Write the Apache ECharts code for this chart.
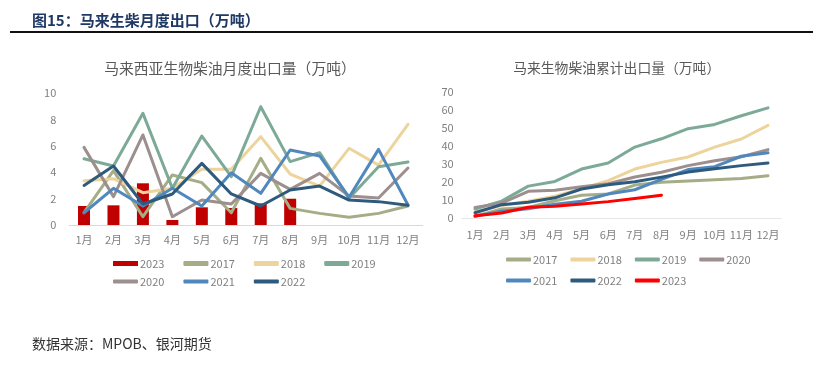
<!DOCTYPE html>
<html>
<head>
<meta charset="utf-8">
<script src="https://cdn.jsdelivr.net/npm/echarts@6/dist/echarts.min.js"></script>
<style>
html,body{margin:0;padding:0;background:#fff;}
#a{position:absolute;left:0;top:0;width:823px;height:365px;}
#b{position:absolute;left:430px;top:0;width:393px;height:365px;}
</style>
</head>
<body>
<div id="a"></div>
<div id="b"></div>
<script>
const months = ['1月','2月','3月','4月','5月','6月','7月','8月','9月','10月','11月','12月'];
// monthly exports (万吨)
const m2023 = [1.44, 1.49, 3.16, 0.38, 1.34, 1.29, 1.64, 1.99];
const m2017 = [0.93, 4.12, 0.63, 3.79, 3.21, 0.93, 5.05, 1.26, 0.88, 0.58, 0.88, 1.44];
const m2018 = [3.36, 3.51, 2.45, 2.78, 4.22, 4.22, 6.69, 3.86, 2.95, 5.81, 4.54, 7.63];
const m2019 = [5.02, 4.47, 8.46, 2.78, 6.74, 3.66, 8.96, 4.80, 5.48, 2.02, 4.42, 4.77];
const m2020 = [5.88, 2.15, 6.82, 0.63, 1.89, 1.59, 3.91, 2.70, 3.91, 2.20, 2.05, 4.32];
const m2021 = [0.93, 2.78, 1.44, 2.78, 1.44, 3.96, 2.40, 5.68, 5.23, 2.10, 5.73, 1.52];
const m2022 = [3.00, 4.47, 1.59, 2.35, 4.67, 2.35, 1.44, 2.65, 2.95, 1.89, 1.77, 1.49];
// cumulative exports (万吨)
const c2017 = [1.0, 5.0, 5.8, 9.6, 12.6, 13.4, 18.3, 19.8, 20.6, 21.2, 22.0, 23.5];
const c2018 = [3.4, 6.9, 9.3, 12.1, 16.3, 20.7, 27.2, 30.9, 33.9, 39.4, 43.9, 51.5];
const c2019 = [5.0, 9.4, 17.7, 20.3, 27.2, 30.6, 39.4, 44.0, 49.6, 52.0, 56.8, 61.2];
const c2020 = [5.9, 8.2, 14.8, 15.4, 17.4, 19.0, 22.8, 25.4, 29.1, 31.8, 34.0, 38.0];
const c2021 = [0.9, 3.7, 5.1, 7.7, 9.3, 13.3, 15.7, 21.5, 26.9, 28.5, 34.3, 36.2];
const c2022 = [2.9, 7.4, 8.8, 11.2, 16.1, 18.5, 20.1, 22.7, 25.5, 27.3, 29.1, 30.6];
const c2023 = [1.3, 2.8, 6.0, 6.5, 7.8, 9.1, 10.8, 12.7];
const yTicksL = [0, 2, 4, 6, 8, 10];
const yTicksR = [0, 10, 20, 30, 40, 50, 60, 70];

const COL = {
  '2017':'#A4AD85', '2018':'#EDD49C', '2019':'#7CAA97', '2020':'#9C8F8D',
  '2021':'#5088BD', '2022':'#2E5A7D', '2023bar':'#C00000', '2023line':'#FF0000'
};
const FONT = '"Noto Sans CJK SC","Noto Sans",sans-serif';
const axisLabelStyle = {color:'#808080', fontSize:11, fontFamily:FONT};

function lineSeries(name, data){
  return {name:name, type:'line', data:data, symbol:'none', smooth:false,
    lineStyle:{width:3, color:COL[name], cap:'round', join:'round'}, itemStyle:{color:COL[name]}, z:3};
}
function legendBox(names, left, top, gap, ih, icons){
  return {left:left, top:top, padding:0, orient:'horizontal', itemWidth:25, itemHeight:ih, itemGap:gap,
    textStyle:{color:'#7F7F7F', fontSize:11, fontFamily:FONT, padding:[0,0,0,-3]},
    data:names.map(n => ({name:n, icon:(icons && icons[n]) || 'roundRect'})),
    selectedMode:false};
}

const ca = echarts.init(document.getElementById('a'), null, {renderer:'canvas'});
ca.setOption({
  animation:false,
  graphic:[
    {type:'text', left:32, top:13, style:{text:'图15：马来生柴月度出口（万吨）', fill:'#1F3864', font:'bold 15px '+FONT}},
    {type:'line', shape:{x1:10, y1:32, x2:813, y2:32}, style:{stroke:'#111', lineWidth:2}},
    {type:'text', x:230, y:68, style:{text:'马来西亚生物柴油月度出口量（万吨）', fill:'#595959', font:'14.8px '+FONT, align:'center', verticalAlign:'middle'}},
    {type:'text', left:32, top:337, style:{text:'数据来源：MPOB、银河期货', fill:'#333', font:'14px '+FONT}}
  ],
  grid:{left:69.3, right:400.3, top:93, bottom:140},
  xAxis:{type:'category', data:months, boundaryGap:true,
    axisLine:{lineStyle:{color:'#D9D9D9', width:1}}, axisTick:{show:false},
    axisLabel:Object.assign({margin:9, interval:0}, axisLabelStyle)},
  yAxis:{type:'value', min:yTicksL[0], max:yTicksL[yTicksL.length-1], interval:2,
    axisLine:{show:false}, axisTick:{show:false}, splitLine:{show:false},
    axisLabel:Object.assign({margin:13}, axisLabelStyle)},
  legend:[
    legendBox(['2023','2017','2018','2019'], 113, 258, 19, 5, {'2023':'rect'}),
    legendBox(['2020','2021','2022'], 113, 276, 19, 4)
  ],
  series:[
    {name:'2023', type:'bar', data:m2023, barWidth:12, itemStyle:{color:COL['2023bar']}, z:2},
    lineSeries('2017', m2017), lineSeries('2018', m2018), lineSeries('2019', m2019),
    lineSeries('2020', m2020), lineSeries('2021', m2021), lineSeries('2022', m2022)
  ]
});

const cb = echarts.init(document.getElementById('b'), null, {renderer:'canvas'});
function rLine(name, data, color){
  return {name:name, type:'line', data:data, symbol:'none',
    lineStyle:{width:3, color:color, cap:'round', join:'round'}, itemStyle:{color:color}};
}
cb.setOption({
  animation:false,
  graphic:[
    {type:'text', x:186.7, y:68, style:{text:'马来生物柴油累计出口量（万吨）', fill:'#595959', font:'13.8px '+FONT, align:'center', verticalAlign:'middle'}}
  ],
  grid:{left:31.7, right:41.7, top:92, bottom:147},
  xAxis:{type:'category', data:months, boundaryGap:true,
    axisLine:{lineStyle:{color:'#E6E6E6', width:1}}, axisTick:{show:false},
    axisLabel:Object.assign({margin:11, interval:0}, axisLabelStyle)},
  yAxis:{type:'value', min:yTicksR[0], max:yTicksR[yTicksR.length-1], interval:10,
    axisLine:{show:false}, axisTick:{show:false}, splitLine:{show:false},
    axisLabel:Object.assign({margin:8}, axisLabelStyle)},
  legend:[
    legendBox(['2017','2018','2019','2020'], 76, 254, 13, 4),
    legendBox(['2021','2022','2023'], 76, 275, 13, 4)
  ],
  series:[
    rLine('2017', c2017, COL['2017']), rLine('2018', c2018, COL['2018']),
    rLine('2019', c2019, COL['2019']), rLine('2020', c2020, COL['2020']),
    rLine('2021', c2021, COL['2021']), rLine('2022', c2022, COL['2022']),
    rLine('2023', c2023, COL['2023line'])
  ]
});
</script>
</body>
</html>
